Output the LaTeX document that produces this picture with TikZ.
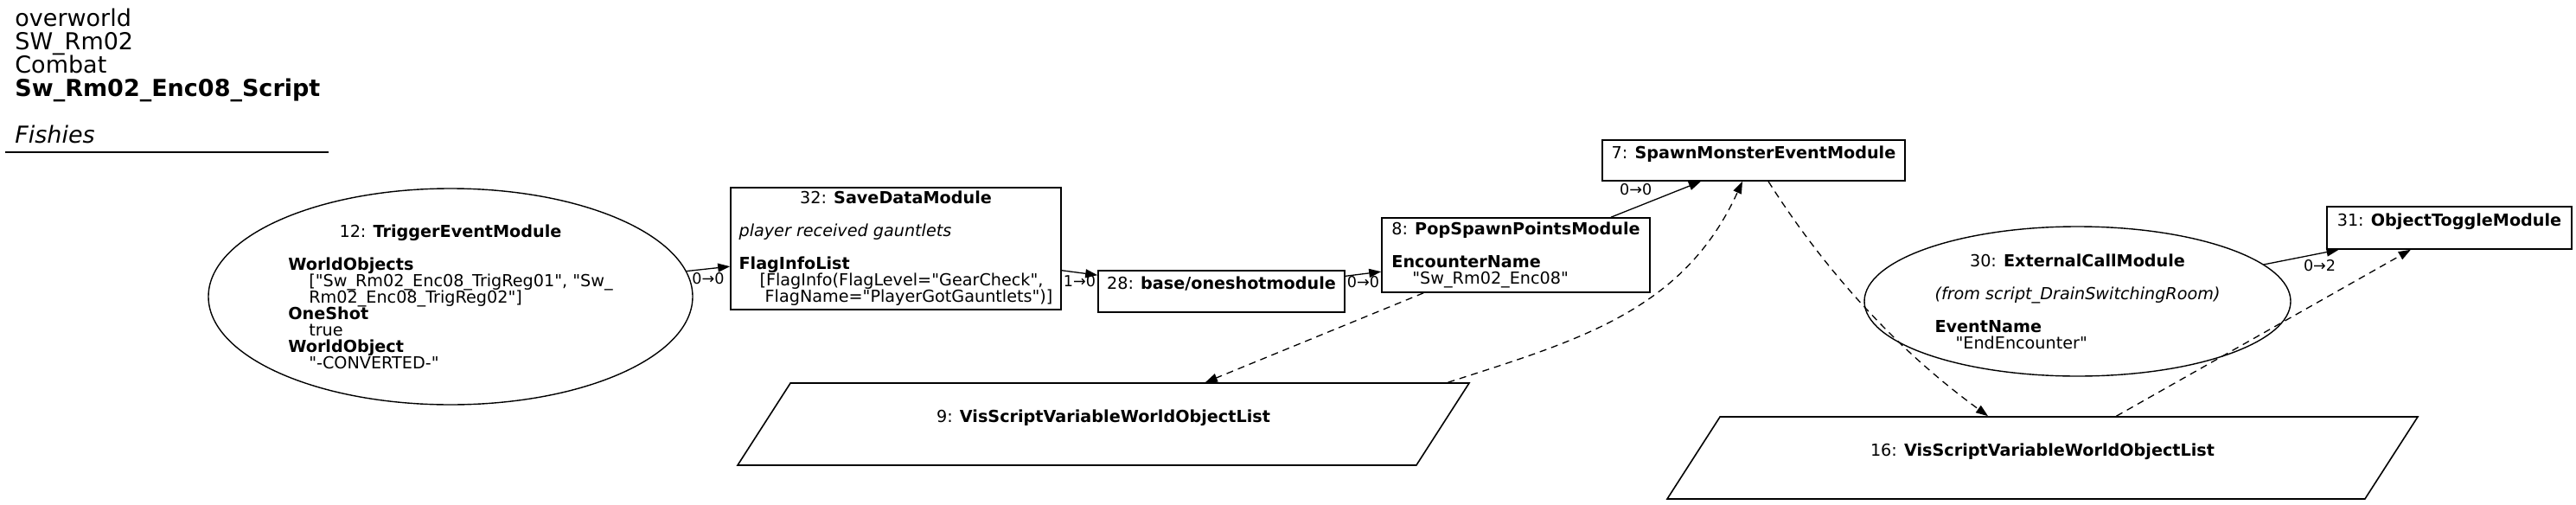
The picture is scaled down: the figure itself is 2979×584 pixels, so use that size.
\documentclass[tikz,border=0pt]{standalone}
\usepackage{fontspec}
\setmainfont{DejaVu Sans}[Ligatures=TeXOff]
\usetikzlibrary{arrows.meta,shapes.geometric}

\newcommand{\ind}{\hspace*{12pt}}
\newcommand{\fixlines}{\lineskiplimit-20pt\relax}
% stacked label lines, left aligned; a line opened with \hfil is centred
\newcommand{\rows}[1]{\vbox{\let\\\cr\halign{##\hfil\cr#1\crcr}}}

\begin{document}
\begin{tikzpicture}[
			x=0.5pt, y=-0.5pt,
			font=\fontsize{9.6}{9.5}\selectfont\fixlines,
			>={Triangle[length=7pt,width=5pt]},
			module/.style={
				rectangle, draw=black, line width=0.8pt,
				inner sep=0pt
			},
			event/.style={
				ellipse, draw=black, line width=0.7pt,
				inner sep=0pt
			},
			varlist/.style={
				trapezium, trapezium left angle=28.8, trapezium right angle=151.2,
				trapezium stretches body, draw=black, line width=0.8pt,
				inner sep=0pt, minimum height=47.5pt
			},
			link/.style={->, line width=0.65pt},
			vlink/.style={->, line width=0.65pt, dash pattern=on 4pt off 3pt},
			elbl/.style={font=\fontsize{8.8}{8.8}\selectfont, inner sep=0pt}
			]
			
			\path[use as bounding box, fill=white] (0,0) rectangle (2979,584);
			
			%% ── Title block ─────────────────────────────────────────────────────
			\node[anchor=north west, align=left, inner sep=0pt,
				font=\fontsize{13.5}{13.5}\selectfont\fixlines] (title) at (17,10)
				{overworld\\SW\_Rm02\\Combat\\\textbf{Sw\_Rm02\_Enc08\_Script}\\[13.5pt]\textit{Fishies}};
			\draw[line width=0.7pt] (6,176) -- (380,176);
			
			%% ── Main chain ──────────────────────────────────────────────────────
			\node[event, minimum width=280pt, minimum height=125pt] (n12) at (521,343)
				{\rows{\hfil 12: \textbf{TriggerEventModule}\\
				\\
				\textbf{WorldObjects}\\
				\ind["Sw\_Rm02\_Enc08\_TrigReg01", "Sw\_\\
				\ind Rm02\_Enc08\_TrigReg02"]\\
				\textbf{OneShot}\\
				\ind true\\
				\textbf{WorldObject}\\
				\ind"-CONVERTED-"}};
			
			\node[module, minimum width=191pt, minimum height=70.5pt] (n32) at (1036,287.5)
				{\rows{\hfil 32: \textbf{SaveDataModule}\\
				\\
				\textit{player received gauntlets}\\
				\\
				\textbf{FlagInfoList}\\
				\ind[FlagInfo(FlagLevel="GearCheck",\\
				\ind\ FlagName="PlayerGotGauntlets")]}};
			
			\node[module, minimum width=142.5pt, minimum height=24pt] (n28) at (1412.5,337)
				{\rows{28: \textbf{base/oneshotmodule}\\ \mbox{}}};
			
			\node[module, minimum width=155pt, minimum height=43pt] (n8) at (1753,295)
				{\rows{\hfil 8: \textbf{PopSpawnPointsModule}\\
				\\
				\textbf{EncounterName}\\
				\ind"Sw\_Rm02\_Enc08"}};
			
			\node[module, minimum width=175pt, minimum height=23.5pt] (n7) at (2028,185.5)
				{\rows{7: \textbf{SpawnMonsterEventModule}\\ \mbox{}}};
			
			%% ── Variables ───────────────────────────────────────────────────────
			\node[varlist, minimum width=423pt] (n9) at (1276,490.5)
				{\rows{9: \textbf{VisScriptVariableWorldObjectList}\\ \mbox{}}};
			\node[varlist, minimum width=434pt] (n16) at (2362,529.5)
				{\rows{16: \textbf{VisScriptVariableWorldObjectList}\\ \mbox{}}};
			
			%% ── External call ───────────────────────────────────────────────────
			\node[event, minimum width=246.5pt, minimum height=86.5pt] (n30) at (2402.5,348.5)
				{\rows{\hfil 30: \textbf{ExternalCallModule}\\
				\\
				\textit{(from script\_DrainSwitchingRoom)}\\
				\\
				\textbf{EventName}\\
				\ind"EndEncounter"}};
			
			\node[module, minimum width=141.5pt, minimum height=24.5pt] (n31) at (2832.5,263.5)
				{\rows{31: \textbf{ObjectToggleModule}\\ \mbox{}}};
			
			%% ── Links ───────────────────────────────────────────────────────────
			\draw[link] (n12) -- node[elbl, below=2pt] {0→0} (n32);
			\draw[link] (n32) -- node[elbl, below=1pt] {1→0} (n28);
			\draw[link] (n28) -- node[elbl, below=1pt] {0→0} (n8);
			\draw[link] (n8) -- node[elbl, above left=2pt] {0→0} (n7);
			\draw[link] (n30) -- node[elbl, below right=1pt] {0→2} (n31);
			
			%% variable links (dashed)
			\draw[vlink] (n8) -- (n9);
			\draw[vlink] ([xshift=-13pt]n9.top right corner)
				.. controls (1827,393) and (1947,359) .. ([xshift=-6.5pt]n7.south);
			\draw[vlink] ([xshift=8.5pt]n7.south)
				.. controls (2113,317) and (2197,407) .. ([xshift=-31.5pt]n16.north);
			\draw[vlink] (n16) -- (n31);
			
		\end{tikzpicture}
\end{document}
